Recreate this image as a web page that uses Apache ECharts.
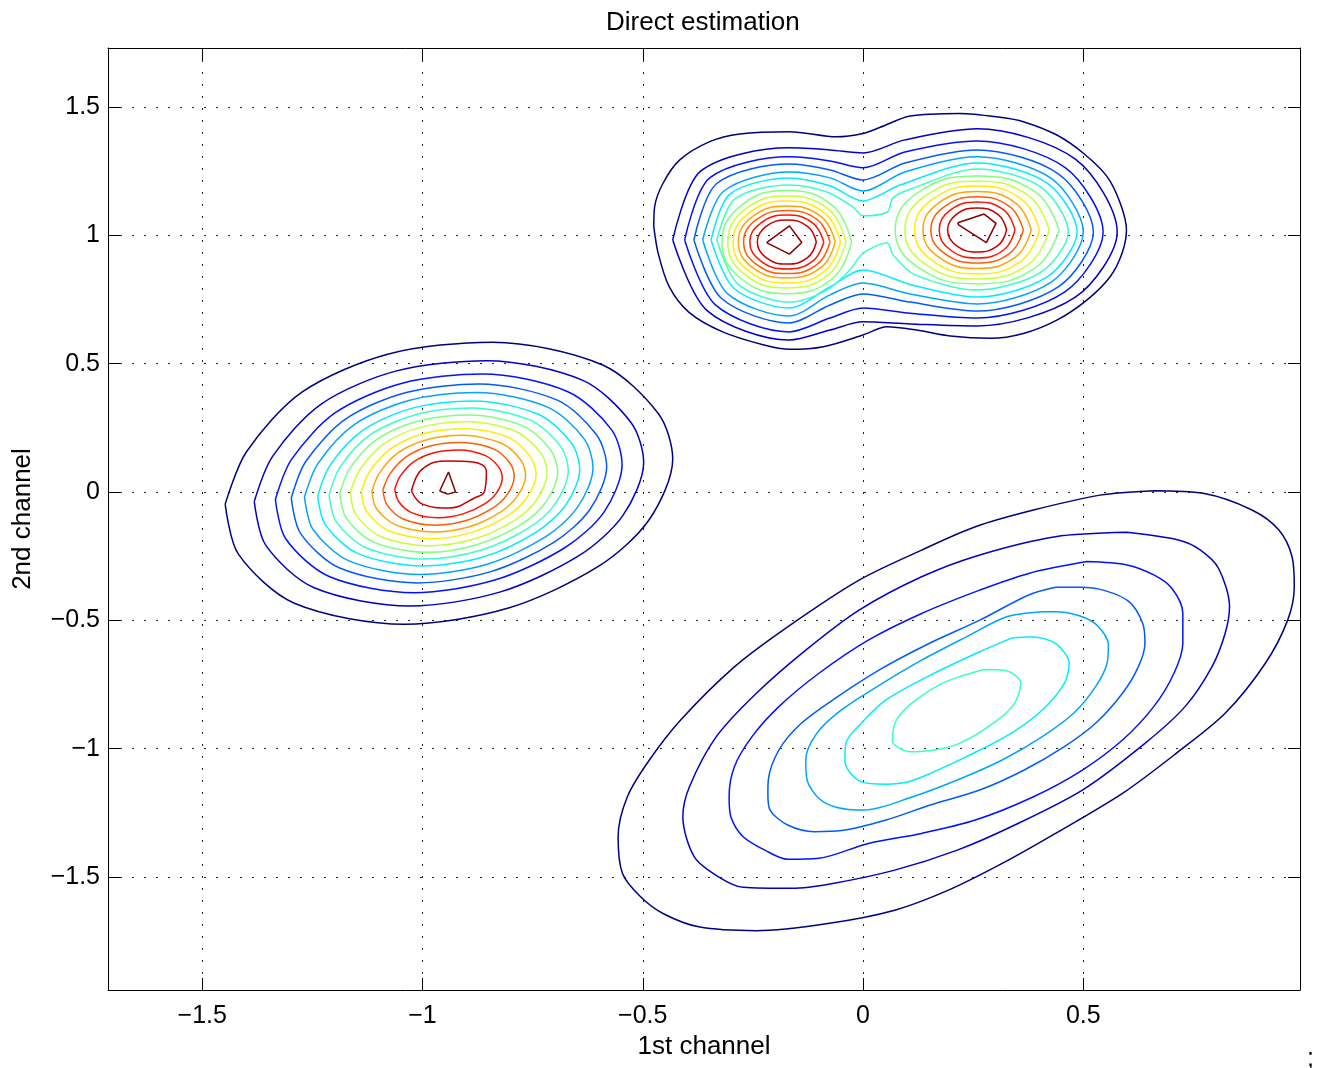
<!DOCTYPE html>
<html><head><meta charset="utf-8">
<script src="https://cdn.jsdelivr.net/npm/echarts@6/dist/echarts.min.js"></script>
<style>html,body{margin:0;padding:0;background:#fff}#c{width:1329px;height:1068px}</style>
</head><body><div id="c"></div>
<script>
// ---- axis data ----
const xTicks = [-1.5, -1, -0.5, 0, 0.5];
const yTicks = [-1.5, -1, -0.5, 0, 0.5, 1, 1.5];
const xRange = [-1.714, 0.992];
const yRange = [-1.940, 1.730];
const titleText = 'Direct estimation';
const xName = '1st channel';
const yName = '2nd channel';
// jet colours for the 15 contour levels
const levelColors = ['#000080','#0000c8','#0012ff','#005bff','#00a4ff','#00edff','#37ffc8','#80ff80','#c8ff37','#ffed00','#ffa400','#ff5b00','#ff1200','#c80000','#800000'];

// ---- left blob contours ----
const westC1 = [[-1.448,-0.047],[-1.400,0.156],[-1.273,0.390],[-1.077,0.538],[-0.841,0.584],[-0.591,0.495],[-0.464,0.304],[-0.432,0.128],[-0.486,-0.109],[-0.600,-0.289],[-0.805,-0.452],[-1.041,-0.515],[-1.291,-0.433],[-1.418,-0.242]];
const westC2 = [[-1.382,-0.037],[-1.340,0.140],[-1.230,0.343],[-1.059,0.472],[-0.854,0.512],[-0.636,0.435],[-0.526,0.269],[-0.498,0.115],[-0.545,-0.091],[-0.644,-0.247],[-0.823,-0.389],[-1.028,-0.444],[-1.246,-0.373],[-1.356,-0.207]];
const westC3 = [[-1.334,-0.029],[-1.297,0.128],[-1.198,0.309],[-1.046,0.424],[-0.864,0.460],[-0.670,0.391],[-0.571,0.243],[-0.547,0.106],[-0.588,-0.078],[-0.677,-0.217],[-0.836,-0.343],[-1.019,-0.392],[-1.212,-0.329],[-1.311,-0.181]];
const westC4 = [[-1.298,-0.024],[-1.265,0.119],[-1.175,0.284],[-1.037,0.388],[-0.871,0.421],[-0.694,0.358],[-0.605,0.223],[-0.582,0.099],[-0.620,-0.068],[-0.701,-0.195],[-0.845,-0.310],[-1.012,-0.354],[-1.188,-0.296],[-1.277,-0.161]];
const westC5 = [[-1.268,-0.019],[-1.237,0.112],[-1.155,0.263],[-1.029,0.358],[-0.877,0.388],[-0.715,0.330],[-0.633,0.207],[-0.613,0.094],[-0.648,-0.059],[-0.721,-0.175],[-0.853,-0.281],[-1.006,-0.321],[-1.167,-0.268],[-1.249,-0.145]];
const westC6 = [[-1.238,-0.015],[-1.210,0.104],[-1.135,0.241],[-1.021,0.328],[-0.883,0.355],[-0.736,0.302],[-0.662,0.191],[-0.643,0.088],[-0.675,-0.051],[-0.742,-0.156],[-0.861,-0.252],[-1.000,-0.288],[-1.146,-0.240],[-1.220,-0.129]];
const westC7 = [[-1.212,-0.011],[-1.187,0.098],[-1.119,0.223],[-1.014,0.302],[-0.888,0.327],[-0.754,0.279],[-0.686,0.177],[-0.669,0.083],[-0.698,-0.044],[-0.759,-0.140],[-0.868,-0.227],[-0.995,-0.261],[-1.128,-0.217],[-1.196,-0.115]];
const westC8 = [[-1.188,-0.007],[-1.165,0.092],[-1.103,0.206],[-1.007,0.278],[-0.892,0.300],[-0.771,0.257],[-0.709,0.164],[-0.693,0.078],[-0.719,-0.037],[-0.775,-0.125],[-0.875,-0.204],[-0.990,-0.235],[-1.111,-0.195],[-1.173,-0.102]];
const westC9 = [[-1.164,-0.003],[-1.143,0.086],[-1.087,0.189],[-1.001,0.254],[-0.897,0.274],[-0.787,0.235],[-0.731,0.151],[-0.717,0.074],[-0.741,-0.031],[-0.791,-0.110],[-0.881,-0.182],[-0.985,-0.209],[-1.095,-0.173],[-1.151,-0.089]];
const westC10 = [[-1.139,0.001],[-1.120,0.080],[-1.070,0.171],[-0.994,0.229],[-0.902,0.247],[-0.804,0.212],[-0.755,0.137],[-0.742,0.069],[-0.764,-0.024],[-0.808,-0.094],[-0.888,-0.157],[-0.980,-0.182],[-1.078,-0.150],[-1.127,-0.075]];
const westC11 = [[-1.115,0.004],[-1.098,0.074],[-1.055,0.154],[-0.988,0.205],[-0.907,0.221],[-0.821,0.190],[-0.777,0.125],[-0.766,0.064],[-0.785,-0.017],[-0.824,-0.079],[-0.894,-0.135],[-0.975,-0.156],[-1.061,-0.128],[-1.105,-0.063]];
const westC12 = [[-1.090,0.008],[-1.075,0.068],[-1.038,0.136],[-0.981,0.180],[-0.912,0.193],[-0.838,0.167],[-0.801,0.111],[-0.792,0.059],[-0.808,-0.010],[-0.841,-0.063],[-0.901,-0.111],[-0.970,-0.129],[-1.044,-0.105],[-1.081,-0.049]];
const westC13 = [[-1.063,0.012],[-1.051,0.061],[-1.021,0.117],[-0.974,0.153],[-0.917,0.164],[-0.857,0.142],[-0.827,0.097],[-0.819,0.054],[-0.832,-0.003],[-0.859,-0.046],[-0.908,-0.085],[-0.965,-0.100],[-1.025,-0.080],[-1.055,-0.035]];
const westC14 = [[-1.025,0.004],[-1.000,0.090],[-0.941,0.121],[-0.886,0.117],[-0.855,0.078],[-0.859,0.004],[-0.882,-0.023],[-0.941,-0.062],[-1.000,-0.047]];
const westC15 = [[-0.961,0.004],[-0.941,0.078],[-0.925,0.000],[-0.943,-0.008]];

// ---- upper (two-peak) blob: merged outer contours ----
const topC1 = [[-0.475,1.034],[-0.465,0.930],[-0.440,0.800],[-0.395,0.700],[-0.320,0.625],[-0.227,0.574],[-0.166,0.556],[-0.090,0.566],[0.000,0.612],[0.054,0.644],[0.122,0.631],[0.198,0.608],[0.289,0.599],[0.364,0.618],[0.440,0.670],[0.508,0.748],[0.561,0.839],[0.588,0.930],[0.598,1.021],[0.584,1.125],[0.554,1.229],[0.501,1.319],[0.440,1.391],[0.364,1.443],[0.311,1.460],[0.220,1.475],[0.107,1.465],[0.039,1.421],[0.000,1.397],[-0.060,1.384],[-0.166,1.404],[-0.280,1.395],[-0.348,1.365],[-0.416,1.294],[-0.454,1.203],[-0.473,1.112]];
const topC2 = [[-0.432,0.982],[-0.368,1.251],[-0.168,1.341],[-0.075,1.333],[0,1.321],[0.095,1.372],[0.259,1.415],[0.482,1.297],[0.577,1.013],[0.482,0.759],[0.259,0.647],[0.107,0.655],[0,0.663],[-0.075,0.631],[-0.168,0.592],[-0.354,0.707]];
const topC3 = [[-0.405,0.982],[-0.348,1.224],[-0.168,1.306],[-0.075,1.290],[0,1.263],[0.095,1.325],[0.259,1.368],[0.459,1.264],[0.545,1.013],[0.459,0.781],[0.259,0.678],[0.107,0.697],[0,0.717],[-0.075,0.678],[-0.168,0.624],[-0.335,0.729]];
const topC4 = [[-0.384,0.982],[-0.332,1.202],[-0.168,1.278],[-0.075,1.255],[0,1.216],[0.095,1.282],[0.259,1.333],[0.444,1.239],[0.523,1.013],[0.444,0.800],[0.259,0.705],[0.107,0.740],[0,0.772],[-0.075,0.729],[-0.168,0.659],[-0.321,0.754]];
const topC5 = [[-0.364,0.982],[-0.316,1.173],[-0.168,1.247],[-0.075,1.224],[0,1.173],[0.095,1.247],[0.259,1.306],[0.428,1.221],[0.500,1.013],[0.428,0.819],[0.259,0.733],[0.107,0.772],[0,0.814],[-0.075,0.768],[-0.168,0.686],[-0.307,0.772]];
const topC6 = [[-0.345,0.982],[-0.302,1.161],[-0.168,1.224],[-0.075,1.193],[0,1.134],[0.084,1.196],[0.259,1.282],[0.418,1.204],[0.486,1.013],[0.418,0.838],[0.259,0.760],[0.111,0.807],[0,0.865],[-0.075,0.799],[-0.168,0.717],[-0.293,0.794]];
const topC7 = [[-0.332,0.982],[-0.291,1.142],[-0.168,1.196],[-0.082,1.169],[-0.023,1.111],[0,1.076],[0.055,1.091],[0.068,1.146],[0.107,1.180],[0.259,1.259],[0.404,1.188],[0.466,1.013],[0.404,0.857],[0.259,0.787],[0.118,0.846],[0.068,0.924],[0.055,0.970],[0,0.931],[-0.030,0.865],[-0.082,0.787],[-0.168,0.740],[-0.284,0.810]];

// ---- upper blob: rings around the left peak ----
const topWestC8 = [[-0.026,0.974],[-0.069,1.116],[-0.173,1.175],[-0.277,1.116],[-0.320,0.974],[-0.277,0.832],[-0.173,0.773],[-0.069,0.832]];
const topWestC9 = [[-0.039,0.974],[-0.078,1.101],[-0.173,1.153],[-0.268,1.101],[-0.307,0.974],[-0.268,0.847],[-0.173,0.795],[-0.078,0.847]];
const topWestC10 = [[-0.051,0.974],[-0.087,1.087],[-0.173,1.134],[-0.259,1.087],[-0.295,0.974],[-0.259,0.861],[-0.173,0.814],[-0.087,0.861]];
const topWestC11 = [[-0.063,0.974],[-0.095,1.073],[-0.173,1.114],[-0.251,1.073],[-0.283,0.974],[-0.251,0.875],[-0.173,0.834],[-0.095,0.875]];
const topWestC12 = [[-0.075,0.974],[-0.104,1.061],[-0.173,1.097],[-0.242,1.061],[-0.271,0.974],[-0.242,0.887],[-0.173,0.851],[-0.104,0.887]];
const topWestC13 = [[-0.089,0.974],[-0.114,1.048],[-0.173,1.079],[-0.232,1.048],[-0.257,0.974],[-0.232,0.900],[-0.173,0.869],[-0.114,0.900]];
const topWestC14 = [[-0.106,0.974],[-0.126,1.035],[-0.173,1.060],[-0.220,1.035],[-0.240,0.974],[-0.220,0.913],[-0.173,0.888],[-0.126,0.913]];
const topWestC15 = [[-0.219,0.972],[-0.167,1.037],[-0.139,0.972],[-0.167,0.927]];

// ---- upper blob: rings around the right peak ----
const topEastC8 = [[0.445,1.021],[0.391,1.169],[0.259,1.231],[0.127,1.169],[0.073,1.021],[0.127,0.873],[0.259,0.811],[0.391,0.873]];
const topEastC9 = [[0.423,1.021],[0.375,1.156],[0.259,1.212],[0.143,1.156],[0.095,1.021],[0.143,0.886],[0.259,0.830],[0.375,0.886]];
const topEastC10 = [[0.401,1.021],[0.359,1.142],[0.259,1.192],[0.159,1.142],[0.117,1.021],[0.159,0.900],[0.259,0.850],[0.359,0.900]];
const topEastC11 = [[0.382,1.021],[0.346,1.127],[0.259,1.171],[0.172,1.127],[0.136,1.021],[0.172,0.915],[0.259,0.871],[0.346,0.915]];
const topEastC12 = [[0.364,1.021],[0.333,1.112],[0.259,1.150],[0.185,1.112],[0.154,1.021],[0.185,0.930],[0.259,0.892],[0.333,0.930]];
const topEastC13 = [[0.345,1.021],[0.320,1.098],[0.259,1.130],[0.198,1.098],[0.173,1.021],[0.198,0.944],[0.259,0.912],[0.320,0.944]];
const topEastC14 = [[0.326,1.021],[0.306,1.082],[0.259,1.107],[0.212,1.082],[0.192,1.021],[0.212,0.960],[0.259,0.935],[0.306,0.960]];
const topEastC15 = [[0.215,1.049],[0.275,1.083],[0.302,1.047],[0.280,0.972],[0.217,1.041]];

// ---- lower-right blob contours ----
const lowC1 = [[0.660,0.005],[0.772,-0.005],[0.883,-0.070],[0.944,-0.148],[0.974,-0.252],[0.979,-0.369],[0.964,-0.499],[0.913,-0.668],[0.822,-0.862],[0.711,-1.018],[0.589,-1.174],[0.437,-1.330],[0.316,-1.447],[0.194,-1.551],[0.072,-1.629],[-0.080,-1.681],[-0.242,-1.709],[-0.373,-1.694],[-0.454,-1.642],[-0.505,-1.577],[-0.546,-1.486],[-0.556,-1.343],[-0.535,-1.187],[-0.485,-1.044],[-0.414,-0.888],[-0.292,-0.681],[-0.171,-0.525],[-0.009,-0.343],[0.133,-0.226],[0.255,-0.135],[0.387,-0.070],[0.538,-0.012]];
const lowC2 = [[0.599,-0.157],[0.716,-0.187],[0.766,-0.226],[0.807,-0.297],[0.832,-0.447],[0.822,-0.551],[0.792,-0.681],[0.731,-0.836],[0.640,-0.979],[0.498,-1.161],[0.336,-1.304],[0.214,-1.395],[0.072,-1.473],[-0.069,-1.525],[-0.161,-1.544],[-0.272,-1.540],[-0.328,-1.499],[-0.383,-1.421],[-0.409,-1.265],[-0.394,-1.148],[-0.333,-0.953],[-0.242,-0.784],[-0.130,-0.616],[-0.009,-0.460],[0.133,-0.330],[0.265,-0.245],[0.437,-0.174]];
const lowC3 = [[0.508,-0.271],[0.599,-0.284],[0.660,-0.323],[0.701,-0.375],[0.726,-0.473],[0.726,-0.589],[0.706,-0.706],[0.660,-0.836],[0.589,-0.966],[0.498,-1.083],[0.387,-1.187],[0.255,-1.278],[0.133,-1.330],[0.012,-1.369],[-0.100,-1.427],[-0.171,-1.431],[-0.221,-1.397],[-0.272,-1.343],[-0.300,-1.265],[-0.304,-1.187],[-0.292,-1.070],[-0.252,-0.953],[-0.191,-0.836],[-0.100,-0.706],[0.012,-0.577],[0.133,-0.473],[0.265,-0.382],[0.376,-0.317]];
const lowC4 = [[0.437,-0.371],[0.493,-0.371],[0.549,-0.384],[0.604,-0.427],[0.635,-0.512],[0.640,-0.590],[0.625,-0.681],[0.589,-0.784],[0.528,-0.901],[0.457,-0.992],[0.366,-1.083],[0.265,-1.161],[0.153,-1.219],[0.052,-1.278],[-0.049,-1.319],[-0.110,-1.323],[-0.171,-1.297],[-0.211,-1.239],[-0.216,-1.175],[-0.215,-1.122],[-0.191,-1.005],[-0.140,-0.901],[-0.060,-0.800],[0.040,-0.690],[0.150,-0.590],[0.265,-0.499],[0.376,-0.401]];
const lowC5 = [[0.407,-0.466],[0.437,-0.466],[0.493,-0.483],[0.533,-0.522],[0.557,-0.596],[0.554,-0.668],[0.528,-0.758],[0.478,-0.862],[0.407,-0.953],[0.316,-1.044],[0.214,-1.122],[0.113,-1.187],[0.002,-1.239],[-0.059,-1.229],[-0.100,-1.194],[-0.127,-1.122],[-0.130,-1.044],[-0.105,-0.940],[-0.049,-0.849],[0.032,-0.758],[0.133,-0.655],[0.235,-0.564],[0.326,-0.486]];
const lowC6 = [[0.336,-0.570],[0.381,-0.564],[0.437,-0.590],[0.468,-0.668],[0.457,-0.745],[0.407,-0.849],[0.336,-0.940],[0.235,-1.031],[0.153,-1.096],[0.103,-1.129],[0.052,-1.138],[-0.004,-1.129],[-0.041,-1.051],[-0.039,-0.979],[-0.004,-0.901],[0.052,-0.810],[0.153,-0.713],[0.265,-0.622]];
const lowC7 = [[0.275,-0.691],[0.326,-0.696],[0.358,-0.745],[0.344,-0.823],[0.300,-0.895],[0.219,-0.979],[0.162,-1.005],[0.108,-1.012],[0.067,-0.970],[0.074,-0.895],[0.108,-0.826],[0.172,-0.752],[0.219,-0.719]];

// level of every contour line
const contourList = [
  [1,westC1],[2,westC2],[3,westC3],[4,westC4],[5,westC5],[6,westC6],[7,westC7],[8,westC8],[9,westC9],[10,westC10],[11,westC11],[12,westC12],[13,westC13],[14,westC14],[15,westC15],
  [1,topC1],[2,topC2],[3,topC3],[4,topC4],[5,topC5],[6,topC6],[7,topC7],
  [8,topWestC8],[9,topWestC9],[10,topWestC10],[11,topWestC11],[12,topWestC12],[13,topWestC13],[14,topWestC14],[15,topWestC15],
  [8,topEastC8],[9,topEastC9],[10,topEastC10],[11,topEastC11],[12,topEastC12],[13,topEastC13],[14,topEastC14],[15,topEastC15],
  [1,lowC1],[2,lowC2],[3,lowC3],[4,lowC4],[5,lowC5],[6,lowC6],[7,lowC7]
];

const FONT = 'Liberation Sans, Arial, Helvetica, sans-serif';
const fmt = v => (v < 0 ? '\u2212' : '') + Math.abs(v);

const series = contourList.map(([lvl, pts]) => ({
  type: 'line',
  data: pts.concat([pts[0]]),
  showSymbol: false,
  symbol: 'none',
  smooth: pts.length <= 5 ? 0 : (pts.length <= 9 ? 0.45 : 0.3),
  lineStyle: { color: levelColors[lvl - 1], width: 1.5 },
  silent: true,
  animation: false,
  clip: true
}));

const splitStyle = { show: true, lineStyle: { color: '#222', width: 1, type: [2, 10] } };
const lineStyleBox = { show: true, onZero: false, lineStyle: { color: '#000', width: 1 } };

const chart = echarts.init(document.getElementById('c'), null, { renderer: 'canvas' });
chart.setOption({
  animation: false,
  backgroundColor: '#fff',
  grid: { left: 108, right: 29, top: 48, bottom: 78, containLabel: false },
  xAxis: [
    { type: 'value', position: 'bottom', min: xRange[0], max: xRange[1],
      axisLine: lineStyleBox,
      axisTick: { show: true, inside: true, length: 12, customValues: xTicks, lineStyle: { color: '#000' } },
      axisLabel: { show: true, customValues: xTicks, formatter: fmt, fontSize: 25, fontFamily: FONT, color: '#000', margin: 14 },
      splitLine: splitStyle,
      name: xName, nameLocation: 'middle', nameGap: 44,
      nameTextStyle: { fontSize: 26, fontFamily: FONT, color: '#000' } },
    { type: 'value', position: 'top', min: xRange[0], max: xRange[1],
      axisLine: lineStyleBox,
      axisTick: { show: true, inside: true, length: 12, customValues: xTicks, lineStyle: { color: '#000' } },
      axisLabel: { show: false }, splitLine: { show: false } }
  ],
  yAxis: [
    { type: 'value', position: 'left', min: yRange[0], max: yRange[1],
      axisLine: lineStyleBox,
      axisTick: { show: true, inside: true, length: 12, customValues: yTicks, lineStyle: { color: '#000' } },
      axisLabel: { show: true, customValues: yTicks, formatter: fmt, fontSize: 25, fontFamily: FONT, color: '#000', margin: 8 },
      splitLine: splitStyle,
      name: yName, nameLocation: 'middle', nameGap: 72, nameRotate: 90,
      nameTextStyle: { fontSize: 26, fontFamily: FONT, color: '#000' } },
    { type: 'value', position: 'right', min: yRange[0], max: yRange[1],
      axisLine: lineStyleBox,
      axisTick: { show: true, inside: true, length: 12, customValues: yTicks, lineStyle: { color: '#000' } },
      axisLabel: { show: false }, splitLine: { show: false } }
  ],
  graphic: [
    { type: 'text', left: 704 - 98, top: 10, style: { text: titleText, font: '26px ' + FONT, fill: '#000' } },
    { type: 'text', left: 1307, top: 1047, style: { text: ';', font: '25px ' + FONT, fill: '#000' } }
  ],
  series: series
});
</script>
</body></html>
